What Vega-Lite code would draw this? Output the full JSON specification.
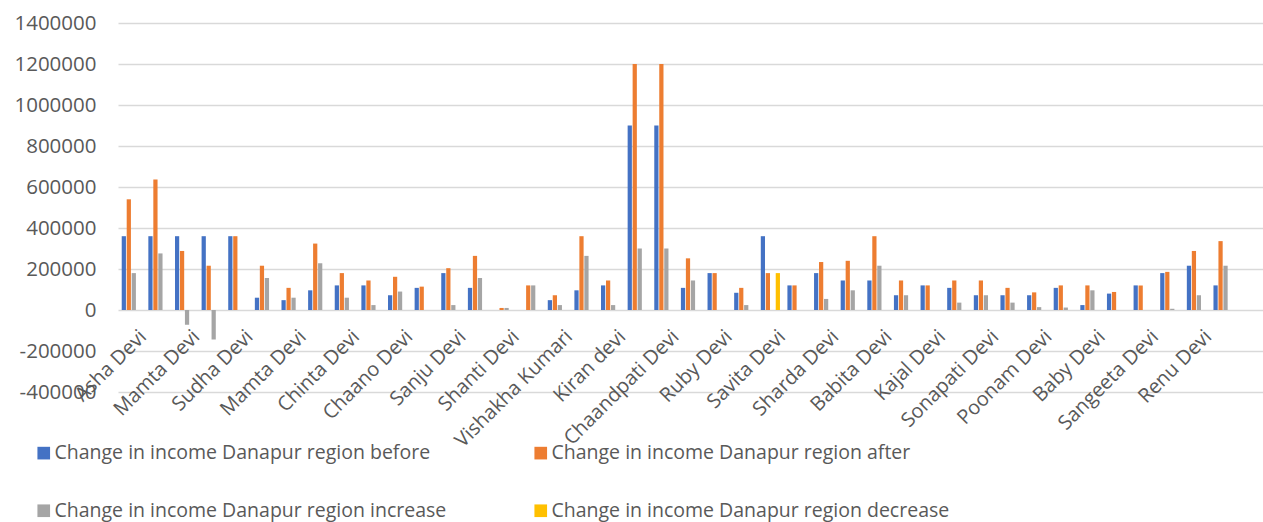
{
  "$schema": "https://vega.github.io/schema/vega-lite/v6.json",
  "autosize": {"type": "none"},
  "width": 1145,
  "height": 369,
  "padding": {"left": 118, "top": 23, "right": 0, "bottom": 130},
  "background": "#ffffff",
  "config": {
    "font": "Open Sans",
    "view": {"stroke": null}
  },
  "data": {
    "values": [
      {"key": "0|Asha Devi", "before": 360000, "after": 540000, "increase": 180000},
      {"key": "1|", "before": 360000, "after": 636000, "increase": 276000},
      {"key": "2|Mamta Devi", "before": 360000, "after": 288000, "increase": -72000},
      {"key": "3|", "before": 360000, "after": 216000, "increase": -144000},
      {"key": "4|Sudha Devi", "before": 360000, "after": 360000, "increase": 0},
      {"key": "5|", "before": 60000, "after": 216000, "increase": 156000},
      {"key": "6|Mamta Devi", "before": 48000, "after": 108000, "increase": 60000},
      {"key": "7|", "before": 96000, "after": 324000, "increase": 228000},
      {"key": "8|Chinta Devi", "before": 120000, "after": 180000, "increase": 60000},
      {"key": "9|", "before": 120000, "after": 144000, "increase": 24000},
      {"key": "10|Chaano Devi", "before": 72000, "after": 162000, "increase": 90000},
      {"key": "11|", "before": 108000, "after": 114000},
      {"key": "12|Sanju Devi", "before": 180000, "after": 204000, "increase": 24000},
      {"key": "13|", "before": 108000, "after": 264000, "increase": 156000},
      {"key": "14|Shanti Devi", "before": 0, "after": 10000, "increase": 10000},
      {"key": "15|", "before": 0, "after": 120000, "increase": 120000},
      {"key": "16|Vishakha Kumari", "before": 48000, "after": 72000, "increase": 24000},
      {"key": "17|", "before": 96000, "after": 360000, "increase": 264000},
      {"key": "18|Kiran devi", "before": 120000, "after": 144000, "increase": 24000},
      {"key": "19|", "before": 900000, "after": 1200000, "increase": 300000},
      {"key": "20|Chaandpati Devi", "before": 900000, "after": 1200000, "increase": 300000},
      {"key": "21|", "before": 108000, "after": 252000, "increase": 144000},
      {"key": "22|Ruby Devi", "before": 180000, "after": 180000, "increase": 0},
      {"key": "23|", "before": 84000, "after": 108000, "increase": 24000},
      {"key": "24|Savita Devi", "before": 360000, "after": 180000, "decrease": 180000},
      {"key": "25|", "before": 120000, "after": 120000},
      {"key": "26|Sharda Devi", "before": 180000, "after": 234000, "increase": 54000},
      {"key": "27|", "before": 144000, "after": 240000, "increase": 96000},
      {"key": "28|Babita Devi", "before": 144000, "after": 360000, "increase": 216000},
      {"key": "29|", "before": 72000, "after": 144000, "increase": 72000},
      {"key": "30|Kajal Devi", "before": 120000, "after": 120000},
      {"key": "31|", "before": 108000, "after": 144000, "increase": 36000},
      {"key": "32|Sonapati Devi", "before": 72000, "after": 144000, "increase": 72000},
      {"key": "33|", "before": 72000, "after": 108000, "increase": 36000},
      {"key": "34|Poonam Devi", "before": 72000, "after": 86000, "increase": 14000},
      {"key": "35|", "before": 108000, "after": 120000, "increase": 12000},
      {"key": "36|Baby Devi", "before": 24000, "after": 120000, "increase": 96000},
      {"key": "37|", "before": 80000, "after": 88000},
      {"key": "38|Sangeeta Devi", "before": 120000, "after": 120000},
      {"key": "39|", "before": 180000, "after": 186000, "increase": 6000},
      {"key": "40|Renu Devi", "before": 216000, "after": 288000, "increase": 72000},
      {"key": "41|", "before": 120000, "after": 336000, "increase": 216000}
    ]
  },
  "transform": [
    {"fold": ["before", "after", "increase", "decrease"], "as": ["part", "value"]},
    {"calculate": "'Change in income Danapur region ' + datum.part", "as": "series"}
  ],
  "mark": {"type": "bar"},
  "encoding": {
    "x": {
      "field": "key",
      "type": "nominal",
      "sort": null,
      "title": null,
      "scale": {"paddingInner": 0.28, "paddingOuter": 0.64, "align": 0.109},
      "axis": {
        "offset": -82,
        "domain": false,
        "ticks": false,
        "labelFontSize": 20,
        "labelColor": "#595959",
        "labelAngle": -45,
        "labelAlign": "right",
        "labelBaseline": "top",
        "labelPadding": 16,
        "labelOffset": 5,
        "labelOverlap": false,
        "labelBound": false,
        "labelFlush": false,
        "labelLimit": 400,
        "grid": false,
        "labelExpr": "substring(datum.label, indexof(datum.label, '|') + 1)"
      }
    },
    "xOffset": {
      "field": "series",
      "type": "nominal",
      "sort": ["Change in income Danapur region before", "Change in income Danapur region after", "Change in income Danapur region increase", "Change in income Danapur region decrease"],
      "scale": {"paddingInner": 0.15}
    },
    "y": {
      "field": "value",
      "type": "quantitative",
      "title": null,
      "scale": {"domain": [-400000, 1400000], "nice": false},
      "axis": {
        "values": [-400000, -200000, 0, 200000, 400000, 600000, 800000, 1000000, 1200000, 1400000],
        "labelExpr": "'' + datum.value",
        "domain": false,
        "ticks": false,
        "labelFontSize": 20.5,
        "labelColor": "#595959",
        "labelPadding": 22,
        "grid": true,
        "gridColor": "#d9d9d9",
        "gridWidth": 1.3
      }
    },
    "color": {
      "field": "series",
      "type": "nominal",
      "scale": {
        "domain": ["Change in income Danapur region before", "Change in income Danapur region after", "Change in income Danapur region increase", "Change in income Danapur region decrease"],
        "range": ["#4472c4", "#ed7d31", "#a5a5a5", "#ffc000"]
      },
      "legend": {
        "title": null,
        "orient": "none",
        "legendX": -84,
        "legendY": 420,
        "direction": "horizontal",
        "columns": 2,
        "columnPadding": 84,
        "rowPadding": 37,
        "symbolType": "square",
        "symbolSize": 160,
        "symbolStrokeWidth": 0,
        "labelFontSize": 19.5,
        "labelColor": "#595959",
        "labelOffset": 1,
        "labelLimit": 600
      }
    }
  }
}
